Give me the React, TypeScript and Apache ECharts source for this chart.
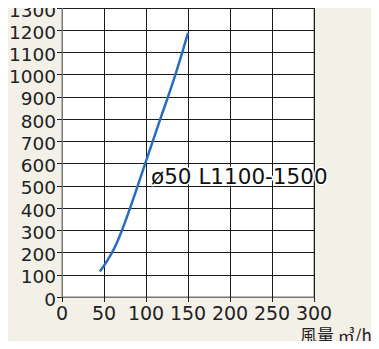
import React, { useEffect, useRef } from "react";
import * as echarts from "echarts";

const airflow = [45, 55, 66, 81, 99, 117, 135, 150];
const pressure = [115, 170, 250, 400, 600, 800, 1000, 1188];
const xTicks = [0, 50, 100, 150, 200, 250, 300];
const yTicks = [0, 100, 200, 300, 400, 500, 600, 700, 800, 900, 1000, 1100, 1200, 1300];
const seriesName = "ø50 L1100-1500";
const labelAt = [106, 540];
const axisName = "風量 ㎥/h";

const FONT = "'DejaVu Sans', 'Noto Sans CJK JP', sans-serif";
const CJK = "'Noto Sans CJK JP', sans-serif";

export default function App() {
  const ref = useRef<HTMLDivElement>(null);
  useEffect(() => {
    if (!ref.current) return;
    const chart = echarts.init(ref.current, undefined, { renderer: "svg" });
    chart.setOption({
      animation: false,
      backgroundColor: "#f3f0e8",
      textStyle: { fontFamily: FONT },
      grid: {
        left: 62,
        right: 65,
        top: 8,
        bottom: 52,
        show: true,
        backgroundColor: "#ffffff",
        borderColor: "#777",
        borderWidth: 1,
      },
      xAxis: {
        type: "value",
        min: xTicks[0],
        max: xTicks[xTicks.length - 1],
        interval: 50,
        axisLine: { show: true, lineStyle: { color: "#777", width: 1 } },
        axisTick: { show: true, length: 5, lineStyle: { color: "#222" } },
        axisLabel: { color: "#222", fontSize: 19, fontFamily: FONT, margin: 6, formatter: (v: number) => String(v) },
        splitLine: { show: true, lineStyle: { color: "#1a1a1a", width: 1 } },
      },
      yAxis: {
        type: "value",
        min: yTicks[0],
        max: yTicks[yTicks.length - 1],
        interval: 100,
        axisLine: { show: true, lineStyle: { color: "#777", width: 1 } },
        axisTick: { show: true, length: 5, lineStyle: { color: "#222" } },
        axisLabel: {
          color: "#222",
          fontSize: 18.5,
          verticalAlign: "top",
          lineHeight: 4,
          fontFamily: FONT,
          margin: 6,
          formatter: (v: number) => String(v),
        },
        splitLine: { show: true, lineStyle: { color: "#1a1a1a", width: 1 } },
      },
      graphic: [
        {
          type: "text",
          left: 300,
          top: 326,
          style: { text: axisName, fill: "#222", font: `17px ${CJK}` },
        },
      ],
      series: [
        {
          name: seriesName,
          type: "line",
          smooth: 0.5,
          symbol: "none",
          data: airflow.map((x, i) => [x, pressure[i]]),
          lineStyle: { color: "#2a6cbf", width: 2.5 },
          markPoint: {
            symbol: "circle",
            symbolSize: 0,
            data: [{ coord: labelAt }],
            label: {
              show: true,
              position: "right",
              distance: 0,
              formatter: seriesName,
              color: "#111",
              fontSize: 21.5,
              fontFamily: FONT,
              textBorderColor: "#fff",
              textBorderWidth: 3,
            },
          },
        },
      ],
    });
    return () => chart.dispose();
  }, []);
  return <div ref={ref} style={{ width: 379, height: 349, margin: -8 }} />;
}
